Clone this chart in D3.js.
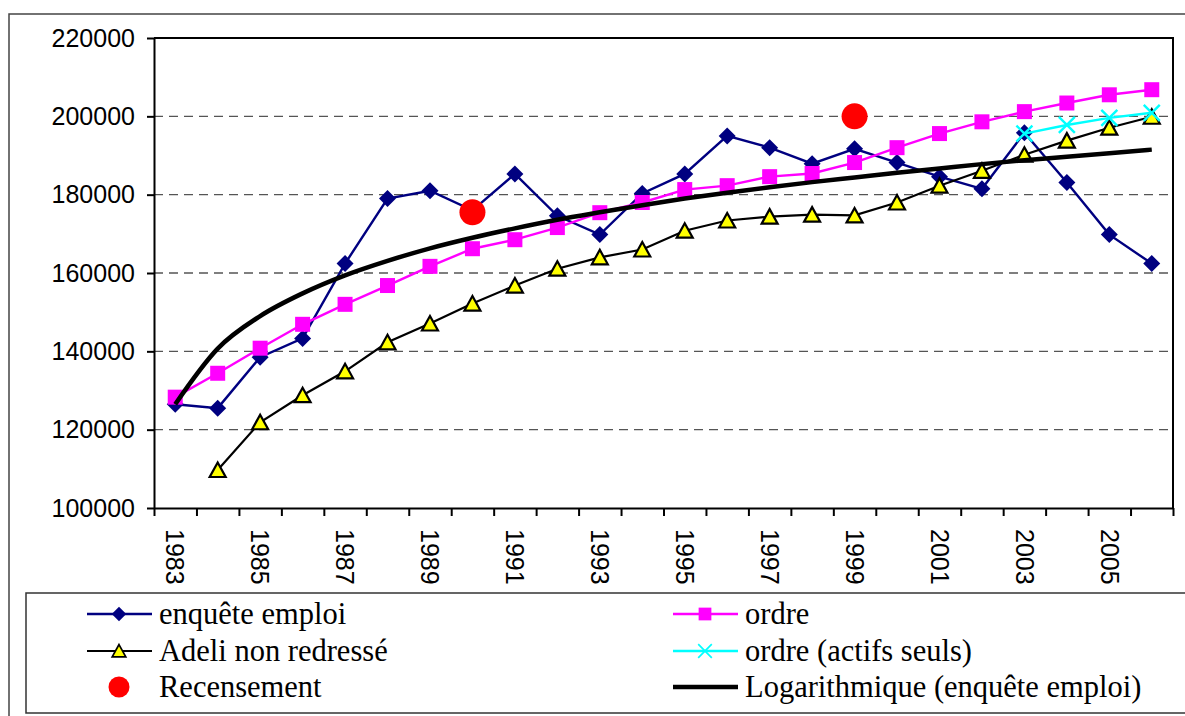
<!DOCTYPE html>
<html>
<head>
<meta charset="utf-8">
<script src="https://cdn.jsdelivr.net/npm/d3@7"></script>
<style>
  body { margin: 0; background: #fff; }
  svg { display: block; }
  .axis path, .axis line { stroke: #000; stroke-width: 2; }
  .axis text { font-family: "Liberation Sans", Arial, sans-serif; font-size: 25px; fill: #000; }
  .legend text { font-family: "Liberation Serif", "Times New Roman", serif; font-size: 30.5px; fill: #000; }
</style>
</head>
<body>
<div class="chart"></div>
<script>
// years (categories)
var years = [1983, 1984, 1985, 1986, 1987, 1988, 1989, 1990, 1991, 1992, 1993, 1994,
             1995, 1996, 1997, 1998, 1999, 2000, 2001, 2002, 2003, 2004, 2005, 2006];

var enquete = [126500, 125500, 138500, 143300, 162400, 179000, 181000, 176000, 185300, 174600, 169800, 180300,
               185300, 195000, 192000, 187900, 191700, 188200, 184600, 181500, 195800, 183100, 169800, 162400];

var ordre = [128300, 134400, 140800, 146900, 152000, 156800, 161700, 166200, 168500, 171600, 175400, 178000,
             181300, 182300, 184600, 185400, 188200, 192000, 195600, 198600, 201200, 203400, 205500, 206800];

var adeli = [null, 109700, 121900, 128800, 134900, 142300, 147100, 152200, 156800, 161100, 164000, 166000,
             170800, 173400, 174400, 174900, 174700, 178000, 182300, 186100, 190200, 193800, 197100, 199900];

var actifs = [null, null, null, null, null, null, null, null, null, null, null, null,
              null, null, null, null, null, null, null, null, 195600, 197800, 199600, 200900];

var recensementYears = [1990, 1999];
var recensement = [175500, 200000];

// log trendline of "enquête emploi"
var tendance = [126500, 140700, 149000, 154800, 159400, 163100, 166300, 169000, 171400, 173600, 175500, 177300,
                179000, 180500, 181900, 183200, 184400, 185600, 186700, 187800, 188800, 189700, 190600, 191500];

var yTicks = [100000, 120000, 140000, 160000, 180000, 200000, 220000];
var yearLabels = [1983, 1985, 1987, 1989, 1991, 1993, 1995, 1997, 1999, 2001, 2003, 2005];

var W = 1185, H = 716;
var plot = { left: 154, right: 1173, top: 38, bottom: 508 };

var svg = d3.select(".chart").append("svg")
    .attr("width", W)
    .attr("height", H);

// outer frame
svg.append("rect")
    .attr("x", 9).attr("y", 14)
    .attr("width", 1200).attr("height", 720)
    .attr("fill", "none")
    .attr("stroke", "#444")
    .attr("stroke-width", 1.5);

var x = d3.scaleBand().domain(years).range([plot.left, plot.right]).padding(0);
var cx = function (yr) { return x(yr) + x.bandwidth() / 2; };
var xIdx = d3.scaleLinear().domain([0, years.length]).range([plot.left, plot.right]);
var y = d3.scaleLinear().domain([100000, 220000]).range([plot.bottom, plot.top]);

// gridlines
svg.append("g").selectAll("line")
    .data(yTicks.filter(function (d) { return d > 100000 && d < 220000; }))
    .enter().append("line")
    .attr("x1", plot.left).attr("x2", plot.right)
    .attr("y1", function (d) { return y(d); })
    .attr("y2", function (d) { return y(d); })
    .attr("stroke", "#555")
    .attr("stroke-width", 1.3)
    .attr("stroke-dasharray", "9,6");

// plot border top/right
svg.append("path")
    .attr("d", "M" + plot.left + "," + plot.top + "H" + plot.right + "V" + plot.bottom)
    .attr("fill", "none")
    .attr("stroke", "#000")
    .attr("stroke-width", 2);

// y axis
svg.append("g")
    .attr("class", "axis")
    .attr("transform", "translate(" + plot.left + ",0)")
    .call(d3.axisLeft(y).tickValues(yTicks).tickSize(7).tickSizeOuter(0).tickPadding(12)
        .tickFormat(d3.format("d")));

// x axis (ticks at category boundaries)
svg.append("g")
    .attr("class", "axis")
    .attr("transform", "translate(0," + plot.bottom + ")")
    .call(d3.axisBottom(xIdx).tickValues(d3.range(0, years.length + 1)).tickSize(8).tickSizeOuter(0)
        .tickFormat(""));

svg.append("g").selectAll("text")
    .data(yearLabels)
    .enter().append("text")
    .attr("transform", function (d) { return "translate(" + cx(d) + "," + (plot.bottom + 21) + ") rotate(90)"; })
    .attr("dy", "0.35em")
    .style("font-family", "'Liberation Sans', Arial, sans-serif")
    .style("font-size", "25px")
    .text(function (d) { return d; });

// line generator
var line = d3.line()
    .defined(function (d) { return d.v != null; })
    .x(function (d) { return cx(d.year); })
    .y(function (d) { return y(d.v); });

function pts(arr) {
    return years.map(function (yr, i) { return { year: yr, v: arr[i] }; });
}

var diamond = "M0,-8.5L8.5,0L0,8.5L-8.5,0Z";
var square = "M-7.5,-7.5H7.5V7.5H-7.5Z";
var triangle = "M0,-7.5L8,7H-8Z";
var cross = "M-8,-8L8,8M-8,8L8,-8";

function drawSeries(arr, color, width, marker, mFill, mStroke, mStrokeW) {
    var g = svg.append("g");
    g.append("path")
        .datum(pts(arr))
        .attr("d", line)
        .attr("fill", "none")
        .attr("stroke", color)
        .attr("stroke-width", width);
    g.selectAll("path.m")
        .data(pts(arr).filter(function (d) { return d.v != null; }))
        .enter().append("path")
        .attr("class", "m")
        .attr("d", marker)
        .attr("transform", function (d) { return "translate(" + cx(d.year) + "," + y(d.v) + ")"; })
        .attr("fill", mFill)
        .attr("stroke", mStroke)
        .attr("stroke-width", mStrokeW);
}

drawSeries(enquete, "#000080", 2.4, diamond, "#000080", "none", 0);
drawSeries(ordre, "#ff00ff", 2.4, square, "#ff00ff", "none", 0);
drawSeries(adeli, "#000", 2.2, triangle, "#ffff00", "#000", 2.2);

// recensement
svg.append("g").selectAll("circle")
    .data(recensementYears)
    .enter().append("circle")
    .attr("cx", function (d) { return cx(d); })
    .attr("cy", function (d, i) { return y(recensement[i]); })
    .attr("r", 13)
    .attr("fill", "#ff0000");

drawSeries(actifs, "#00ffff", 2.4, cross, "none", "#00ffff", 2.4);

// trendline
svg.append("path")
    .datum(pts(tendance))
    .attr("d", line.curve(d3.curveMonotoneX))
    .attr("fill", "none")
    .attr("stroke", "#000")
    .attr("stroke-width", 4.5);
line.curve(d3.curveLinear);

// legend
svg.append("rect")
    .attr("x", 26).attr("y", 593)
    .attr("width", 1200).attr("height", 120)
    .attr("fill", "none")
    .attr("stroke", "#333")
    .attr("stroke-width", 1.5);

var legendItems = [
    { name: "enquête emploi", col: 0, row: 0, color: "#000080", w: 2.4, marker: diamond, fill: "#000080", stroke: "none" },
    { name: "ordre", col: 1, row: 0, color: "#ff00ff", w: 2.4, marker: square, fill: "#ff00ff", stroke: "none" },
    { name: "Adeli non redressé", col: 0, row: 1, color: "#000", w: 2.2, marker: triangle, fill: "#ffff00", stroke: "#000" },
    { name: "ordre (actifs seuls)", col: 1, row: 1, color: "#00ffff", w: 2.4, marker: cross, fill: "none", stroke: "#00ffff" },
    { name: "Recensement", col: 0, row: 2, color: null, circle: true },
    { name: "Logarithmique (enquête emploi)", col: 1, row: 2, color: "#000", w: 4.5, marker: null }
];
var colX = [87, 673], rowY = [614, 651, 687];

var lg = svg.append("g").attr("class", "legend")
    .selectAll("g").data(legendItems).enter().append("g")
    .attr("transform", function (d) { return "translate(" + colX[d.col] + "," + rowY[d.row] + ")"; });

lg.filter(function (d) { return d.color; }).append("line")
    .attr("x1", 0).attr("x2", 65)
    .attr("stroke", function (d) { return d.color; })
    .attr("stroke-width", function (d) { return d.w; });
lg.filter(function (d) { return d.marker; }).append("path")
    .attr("transform", "translate(32,0) scale(0.85)")
    .attr("d", function (d) { return d.marker; })
    .attr("fill", function (d) { return d.fill; })
    .attr("stroke", function (d) { return d.stroke; })
    .attr("stroke-width", 2);
lg.filter(function (d) { return d.circle; }).append("circle")
    .attr("cx", 32).attr("r", 10.5).attr("fill", "#ff0000");
lg.append("text")
    .attr("x", 72)
    .attr("dy", "0.33em")
    .text(function (d) { return d.name; });
</script>
</body>
</html>
